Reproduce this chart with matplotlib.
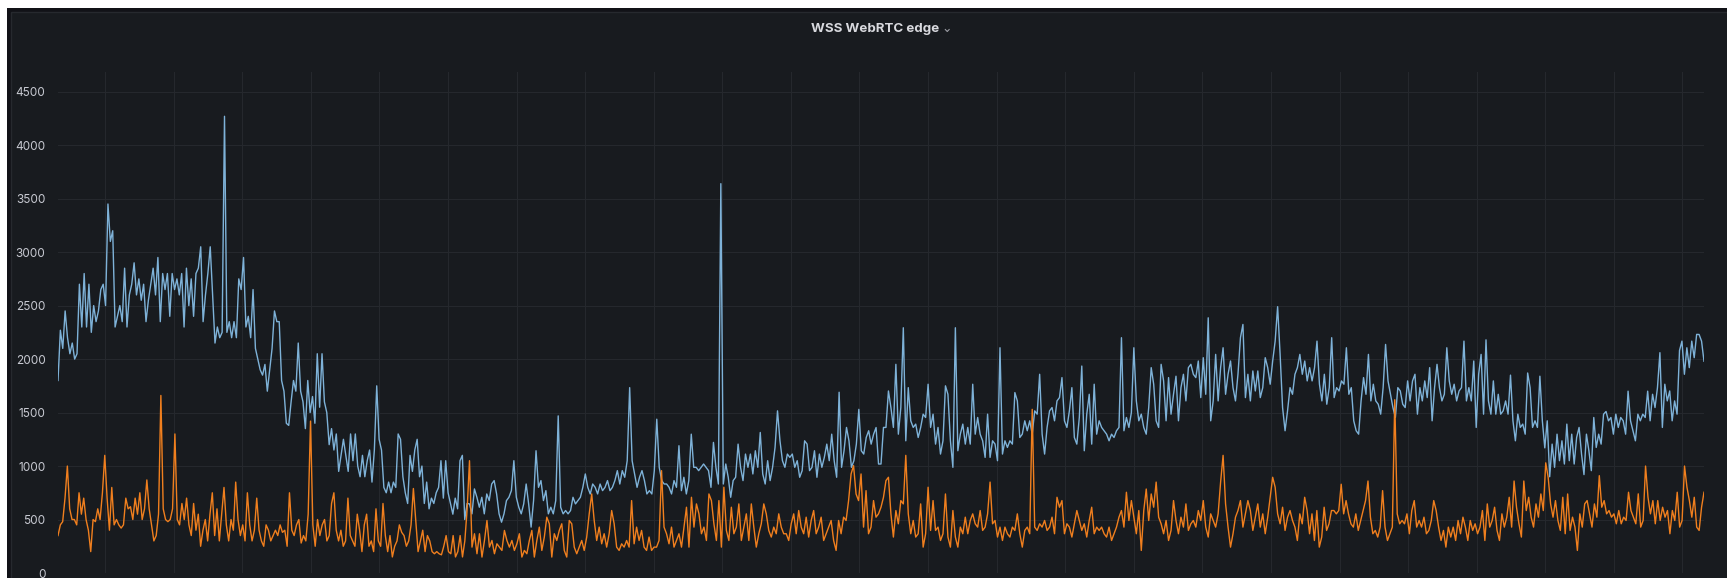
import numpy as np
import matplotlib.pyplot as plt
from matplotlib.patches import Rectangle

# sampled values, one list per 6 hour block (hours 0-6, 6-12, 12-18, 18-24)
blue_h00_06 = [1800, 2270, 2100, 2450, 2200, 2050, 2150, 2000, 2050, 2700,
               2300, 2800, 2300, 2700, 2250, 2500, 2350, 2450, 2650, 2700,
               2500, 3450, 3100, 3200, 2300, 2400, 2500, 2350, 2850, 2300,
               2600, 2700, 2900, 2600, 2750, 2550, 2700, 2350, 2550, 2700,
               2850, 2600, 2950, 2350, 2800, 2650, 2800, 2400, 2800, 2650,
               2750, 2600, 2800, 2300, 2850, 2500, 2750, 2400, 2800, 2850,
               3050, 2350, 2600, 2800, 3050, 2600, 2150, 2300, 2200, 2250,
               4270, 2250, 2350, 2200, 2350, 2200, 2750, 2650, 2950, 2300,
               2400, 2200, 2650, 2100, 2000, 1900, 1850, 1950, 1700, 1900,
               2100, 2450, 2350, 2350, 1800, 1700, 1400, 1380, 1600, 1800,
               1700, 2150, 1700, 1600, 1350, 1800, 1500, 1650, 1400, 2050,
               1550, 2050, 1600, 1500, 1200, 1350, 1150, 1300, 950, 1100,
               1250, 1100, 950, 1300, 1050, 1300, 1000, 900, 1100, 900,
               1050, 1150, 850, 1150, 1750, 1250, 1150, 800, 750, 850,
               750, 850, 800, 1300, 1250, 900, 750, 650, 1100, 950,
               1150, 1250, 900, 1000, 650, 850, 600, 700, 650, 750,
               800, 1050, 700, 1050, 750, 650, 550, 700, 600, 1050,
               1100, 500, 650]
blue_h06_12 = [646, 553, 786, 708, 615, 708, 553, 739, 677, 832,
               864, 739, 553, 475, 553, 677, 708, 770, 1050, 708,
               615, 553, 646, 832, 646, 429, 677, 1143, 801, 864,
               677, 770, 553, 615, 553, 677, 1469, 615, 553, 584,
               553, 584, 708, 646, 677, 708, 801, 926, 801, 739,
               832, 801, 739, 832, 770, 801, 864, 770, 801, 864,
               957, 832, 957, 895, 1050, 1733, 1050, 926, 801, 895,
               957, 864, 739, 770, 739, 957, 1438, 988, 864, 832,
               832, 801, 739, 864, 801, 1190, 770, 895, 739, 864,
               1298, 988, 988, 957, 988, 1019, 988, 957, 801, 1221,
               988, 832, 3640, 832, 1019, 895, 708, 864, 895, 1205,
               988, 864, 1112, 988, 1112, 926, 1143, 988, 1314, 926,
               832, 1050, 864, 988, 1174, 1516, 1236, 1050, 988, 1112,
               1081, 1112, 988, 1050, 895, 957, 1236, 1205, 957, 988,
               1143, 895, 1112, 988, 1081, 1205, 1050, 1298, 1050, 895,
               1690, 988, 1143, 1361, 1236, 988, 1050, 1205, 1530, 1143,
               1112, 1267, 1330, 1205, 1298, 1360, 1019]
blue_h12_18 = [1019, 1361, 1361, 1702, 1547, 1361, 1951, 1298, 1547, 2293,
               1236, 1733, 1423, 1361, 1392, 1267, 1361, 1485, 1454, 1765,
               1361, 1485, 1205, 1361, 1112, 1236, 1750, 1671, 1236, 988,
               2293, 1143, 1298, 1392, 1205, 1361, 1205, 1765, 1298, 1454,
               1298, 1236, 1081, 1485, 1081, 1236, 1205, 1050, 2106, 1112,
               1236, 1174, 1236, 1205, 1687, 1609, 1267, 1298, 1423, 1330,
               1423, 1298, 1516, 1485, 1858, 1298, 1112, 1361, 1516, 1547,
               1423, 1609, 1640, 1827, 1423, 1361, 1516, 1733, 1267, 1205,
               1454, 1935, 1143, 1485, 1671, 1205, 1765, 1298, 1423, 1361,
               1330, 1298, 1236, 1298, 1267, 1330, 1361, 2200, 1330, 1454,
               1361, 1500, 2106, 1609, 1423, 1485, 1361, 1298, 1547, 1920,
               1765, 1423, 1361, 1951, 1796, 1423, 1827, 1485, 1671, 1840,
               1423, 1733, 1858, 1609, 1920, 1951, 1858, 1827, 1982, 1640,
               2013, 1671, 2386, 1423, 1609, 2044, 1609, 1920, 2106, 1671,
               1858, 1982, 1733, 1609, 1858, 2200, 2324, 1640, 1858, 1609,
               1889, 1702, 1889, 1640, 1733, 2013, 1920, 1765, 1982, 2168,
               2490, 2044, 1547, 1330, 1516, 1733]
blue_h18_24 = [1671, 1858, 1920, 2044, 1858, 1982, 1796, 1920, 1796, 1920,
               2168, 1765, 1609, 1858, 1578, 1733, 2200, 1640, 1733, 1702,
               1796, 1765, 2106, 1671, 1733, 1423, 1330, 1298, 1609, 1827,
               1671, 2044, 1609, 1765, 1609, 1578, 1485, 1733, 2137, 1796,
               1671, 1547, 1454, 1733, 1702, 1578, 1547, 1796, 1609, 1796,
               1858, 1485, 1733, 1609, 1796, 1640, 1920, 1423, 1733, 1951,
               1733, 1609, 1671, 2106, 1796, 1671, 1765, 1609, 1702, 1733,
               2168, 1609, 1733, 1609, 1982, 1361, 1858, 2044, 1485, 2180,
               1609, 1485, 1796, 1485, 1671, 1485, 1516, 1609, 1485, 1850,
               1423, 1236, 1485, 1361, 1392, 1298, 1870, 1733, 1361, 1423,
               1361, 1840, 1423, 1170, 1423, 900, 1205, 988, 1298, 1050,
               1236, 1019, 1392, 1050, 1298, 1019, 1267, 1361, 1112, 920,
               1298, 1143, 957, 1454, 1174, 1298, 1205, 1485, 1510, 1423,
               1454, 1298, 1485, 1361, 1454, 1423, 1298, 1700, 1423, 1330,
               1236, 1485, 1423, 1485, 1454, 1700, 1423, 1671, 1547, 1733,
               2060, 1361, 1765, 1609, 1702, 1423, 1609, 1485, 2080, 2168,
               1858, 2106, 1920, 2168, 2013, 2231, 2230, 2168, 1980]

orange_h00_06 = [350, 450, 480, 700, 1000, 600, 500, 500, 450, 750,
                 550, 700, 500, 400, 200, 500, 480, 600, 500, 750,
                 1100, 700, 400, 800, 450, 500, 450, 420, 450, 700,
                 600, 620, 500, 700, 550, 750, 500, 600, 870, 600,
                 450, 300, 350, 550, 1660, 600, 500, 480, 500, 600,
                 1300, 500, 450, 650, 500, 700, 450, 350, 650, 400,
                 550, 250, 400, 500, 300, 550, 750, 350, 600, 300,
                 550, 800, 450, 300, 500, 400, 850, 500, 350, 450,
                 300, 750, 450, 300, 400, 700, 400, 300, 250, 450,
                 400, 300, 350, 400, 350, 450, 380, 400, 250, 750,
                 400, 350, 450, 500, 280, 350, 300, 550, 1420, 450,
                 250, 500, 350, 450, 500, 300, 350, 650, 750, 400,
                 300, 400, 250, 300, 700, 350, 300, 250, 550, 400,
                 200, 450, 550, 250, 300, 200, 600, 300, 250, 650,
                 350, 200, 350, 150, 250, 300, 450, 380, 350, 250,
                 300, 450, 790, 500, 200, 300, 400, 200, 350, 300,
                 200, 180, 200, 180, 170, 250, 350, 200, 180, 350,
                 150, 200, 350, 150, 300, 600]
orange_h06_12 = [1050, 242, 367, 180, 367, 149, 304, 491, 242, 304,
                 180, 273, 242, 211, 398, 304, 242, 304, 211, 273,
                 367, 149, 211, 180, 304, 398, 149, 304, 429, 211,
                 336, 522, 460, 149, 367, 304, 398, 460, 211, 149,
                 491, 460, 242, 180, 242, 304, 211, 336, 553, 739,
                 491, 304, 429, 273, 367, 242, 367, 584, 460, 242,
                 211, 273, 242, 304, 242, 677, 273, 429, 304, 398,
                 242, 211, 336, 211, 242, 242, 304, 957, 429, 367,
                 273, 429, 242, 304, 367, 242, 429, 615, 242, 708,
                 429, 646, 553, 367, 429, 304, 739, 677, 460, 304,
                 677, 242, 802, 398, 304, 615, 367, 429, 646, 304,
                 429, 553, 304, 646, 429, 242, 367, 460, 646, 553,
                 398, 336, 429, 367, 553, 429, 367, 367, 304, 460,
                 553, 367, 584, 429, 367, 522, 336, 491, 584, 367,
                 429, 522, 304, 367, 429, 491, 304, 211, 491, 367,
                 522, 491, 677, 926, 1004, 739, 677, 926, 429, 770,
                 367, 429, 677, 522, 553]
orange_h12_18 = [615, 708, 864, 895, 553, 336, 584, 460, 677, 646,
                 1100, 553, 367, 491, 336, 367, 646, 242, 367, 802,
                 398, 677, 398, 429, 304, 367, 739, 336, 242, 584,
                 336, 242, 429, 367, 522, 367, 491, 553, 460, 429,
                 584, 398, 429, 553, 850, 460, 491, 336, 429, 304,
                 429, 367, 336, 429, 398, 553, 367, 242, 398, 429,
                 367, 1530, 429, 398, 460, 429, 491, 398, 429, 522,
                 367, 708, 615, 677, 367, 460, 429, 336, 460, 584,
                 491, 398, 460, 336, 491, 615, 367, 429, 398, 429,
                 367, 336, 429, 304, 367, 429, 522, 584, 429, 755,
                 491, 677, 522, 367, 584, 211, 584, 785, 491, 739,
                 615, 850, 522, 460, 367, 491, 304, 398, 677, 491,
                 367, 522, 429, 646, 398, 460, 491, 429, 584, 491,
                 677, 429, 336, 553, 491, 429, 553, 850, 1100, 646,
                 429, 242, 367, 522, 584, 677, 429, 553, 677, 584,
                 398, 522, 646, 429, 553, 367, 522, 708, 895, 802,
                 553, 460, 615, 398, 522, 584]
orange_h18_24 = [491, 429, 304, 553, 460, 708, 584, 367, 553, 304,
                 584, 242, 336, 615, 398, 460, 584, 584, 553, 584,
                 830, 553, 677, 553, 460, 429, 553, 398, 491, 584,
                 677, 860, 522, 367, 398, 336, 429, 770, 429, 304,
                 367, 429, 1620, 553, 460, 491, 460, 553, 367, 584,
                 677, 429, 491, 429, 522, 367, 398, 491, 677, 584,
                 429, 304, 398, 242, 429, 336, 429, 304, 491, 367,
                 522, 429, 304, 491, 398, 460, 367, 429, 584, 304,
                 646, 429, 491, 615, 398, 304, 553, 429, 522, 708,
                 429, 860, 615, 460, 336, 860, 584, 708, 522, 429,
                 646, 522, 739, 584, 1030, 895, 646, 522, 677, 491,
                 398, 708, 367, 739, 398, 522, 429, 211, 553, 429,
                 646, 677, 553, 429, 646, 522, 910, 615, 677, 553,
                 584, 522, 553, 460, 584, 460, 522, 491, 755, 584,
                 522, 460, 740, 429, 491, 1000, 708, 553, 677, 460,
                 677, 491, 615, 522, 584, 367, 584, 491, 755, 429,
                 491, 1000, 802, 677, 522, 708, 429, 398, 615, 755]

block_starts = [0, 6, 12, 18, 24]
first_hour_mark = 0.686
yticks = list(range(0, 5000, 500))


def timeline(blocks):
    ts = []
    for i, b in enumerate(blocks):
        last = i == len(blocks) - 1
        ts.append(np.linspace(block_starts[i], block_starts[i + 1], len(b), endpoint=last))
    return np.concatenate(ts), np.concatenate([np.array(b, float) for b in blocks])


t_blue, blue = timeline([blue_h00_06, blue_h06_12, blue_h12_18, blue_h18_24])
t_orange, orange = timeline([orange_h00_06, orange_h06_12, orange_h12_18, orange_h18_24])

W, H = 1727, 578
fig = plt.figure(figsize=(W / 100, H / 100), dpi=100, facecolor='#111217')
fig.patches.append(Rectangle((0, 1 - 8 / H), 1, 8 / H, transform=fig.transFigure,
                             facecolor='white', edgecolor='none', zorder=-10))
fig.patches.append(Rectangle((0, 0), 7 / W, 1, transform=fig.transFigure,
                             facecolor='white', edgecolor='none', zorder=-10))
fig.patches.append(Rectangle((11 / W, -0.01), 1, 1 - 12 / H + 0.01, transform=fig.transFigure,
                             facecolor='#181b1f', edgecolor='#26292e', lw=1, zorder=-10))

# value 0 sits at y=573 px, 4500 at y=91.7 px
y0_px, top_px = 573.0, 71.6
ymax = (y0_px - top_px) / ((y0_px - 91.7) / 4500)
ax = fig.add_axes([58 / W, (H - y0_px) / H, (1704 - 58) / W, (y0_px - top_px) / H])
ax.set_facecolor('none')
ax.plot(t_blue, blue, color='#7eb2d8', lw=1.0)
ax.plot(t_orange, orange, color='#f07f1e', lw=1.0)

ax.set_xlim(0, 24)
ax.set_ylim(0, ymax)
ax.set_yticks(yticks)
ax.set_xticks(first_hour_mark + np.arange(24))
ax.set_xticklabels([])
ax.tick_params(length=0, colors='#c7c9d1', labelsize=8.5, pad=9)
for lab in ax.get_yticklabels():
    lab.set_family('Inter')
ax.grid(True, color='#25282d', lw=0.8)
ax.set_axisbelow(True)
for s in ax.spines.values():
    s.set_visible(False)

fig.text(875 / W, 1 - 29 / H, 'WSS WebRTC edge', ha='center', va='center',
         fontsize=9.6, fontweight='bold', family='Inter', color='#d8d9de')
fig.text(947 / W, 1 - 28 / H, '⌄', ha='center', va='center',
         fontsize=9, family=['DejaVu Sans'], color='#9fa1a8')

fig.savefig('out.png', dpi=100, facecolor=fig.get_facecolor())
